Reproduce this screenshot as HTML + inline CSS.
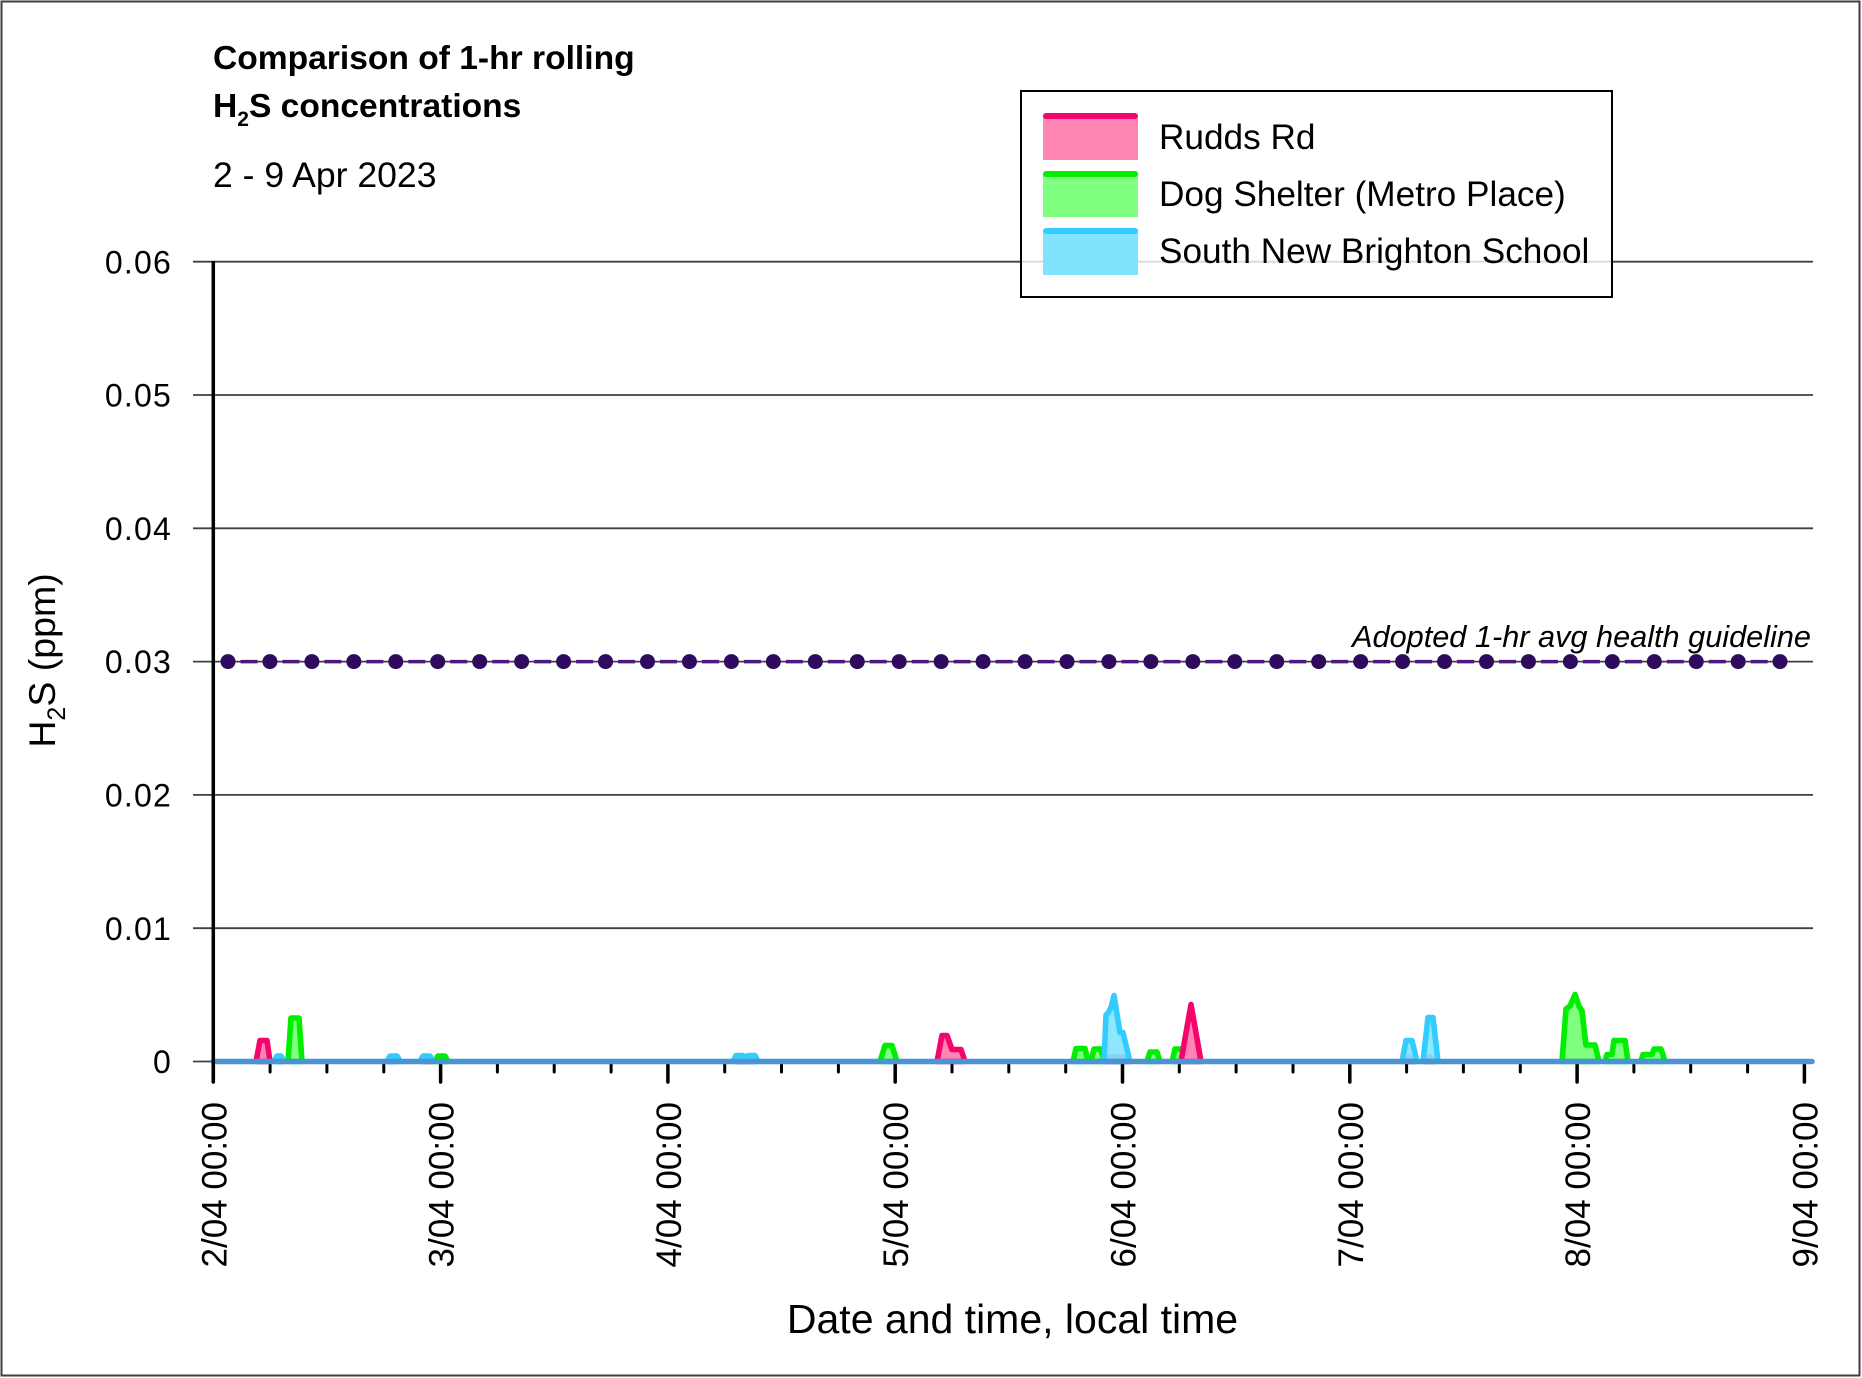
<!DOCTYPE html>
<html><head><meta charset="utf-8"><style>
html,body{margin:0;padding:0;background:#fff;}
svg{display:block;}
text{font-family:"Liberation Sans",sans-serif;fill:#000;}
</style></head><body>
<svg width="1862" height="1378" viewBox="0 0 1862 1378" xmlns="http://www.w3.org/2000/svg">
<rect x="0" y="0" width="1862" height="1378" fill="#fff"/>
<rect x="1.5" y="1.5" width="1858" height="1374" fill="none" stroke="#3f3f3f" stroke-width="2"/>

<!-- titles -->
<text x="213" y="69" font-size="33.6" font-weight="bold">Comparison of 1-hr rolling</text>
<text x="213" y="117" font-size="33.6" font-weight="bold">H<tspan dy="9" font-size="21">2</tspan><tspan dy="-9">S concentrations</tspan></text>
<text x="213" y="187" font-size="35.6">2 - 9 Apr 2023</text>

<!-- gridlines -->
<g stroke="#404040" stroke-width="1.8">
<line x1="193" y1="261.7" x2="1813" y2="261.7"/>
<line x1="193" y1="395" x2="1813" y2="395"/>
<line x1="193" y1="528.3" x2="1813" y2="528.3"/>
<line x1="193" y1="661.6" x2="1813" y2="661.6"/>
<line x1="193" y1="794.9" x2="1813" y2="794.9"/>
<line x1="193" y1="928.2" x2="1813" y2="928.2"/>
<line x1="193" y1="1061.5" x2="213" y2="1061.5"/>
</g>

<!-- y tick labels -->
<g font-size="32" text-anchor="end" letter-spacing="1.2">
<text x="172" y="273.3">0.06</text>
<text x="172" y="406.6">0.05</text>
<text x="172" y="539.9">0.04</text>
<text x="172" y="673.2">0.03</text>
<text x="172" y="806.5">0.02</text>
<text x="172" y="939.8">0.01</text>
<text x="172" y="1073.1">0</text>
</g>

<!-- y axis title -->
<text transform="translate(55,660.5) rotate(-90)" font-size="37.5" text-anchor="middle">H<tspan dy="10" font-size="25">2</tspan><tspan dy="-10">S (ppm)</tspan></text>

<!-- guideline -->
<line x1="240.5" y1="661.6" x2="1780" y2="661.6" stroke="#4a1a80" stroke-width="3.5" stroke-dasharray="17 24.95"/>
<g fill="#2e0b5e">
<circle cx="228" cy="661.6" r="7.5"/><circle cx="269.95" cy="661.6" r="7.5"/><circle cx="311.9" cy="661.6" r="7.5"/><circle cx="353.85" cy="661.6" r="7.5"/><circle cx="395.8" cy="661.6" r="7.5"/><circle cx="437.75" cy="661.6" r="7.5"/><circle cx="479.7" cy="661.6" r="7.5"/><circle cx="521.65" cy="661.6" r="7.5"/><circle cx="563.6" cy="661.6" r="7.5"/><circle cx="605.55" cy="661.6" r="7.5"/><circle cx="647.5" cy="661.6" r="7.5"/><circle cx="689.45" cy="661.6" r="7.5"/><circle cx="731.4" cy="661.6" r="7.5"/><circle cx="773.35" cy="661.6" r="7.5"/><circle cx="815.3" cy="661.6" r="7.5"/><circle cx="857.25" cy="661.6" r="7.5"/><circle cx="899.2" cy="661.6" r="7.5"/><circle cx="941.15" cy="661.6" r="7.5"/><circle cx="983.1" cy="661.6" r="7.5"/><circle cx="1025.05" cy="661.6" r="7.5"/><circle cx="1067" cy="661.6" r="7.5"/><circle cx="1108.95" cy="661.6" r="7.5"/><circle cx="1150.9" cy="661.6" r="7.5"/><circle cx="1192.85" cy="661.6" r="7.5"/><circle cx="1234.8" cy="661.6" r="7.5"/><circle cx="1276.75" cy="661.6" r="7.5"/><circle cx="1318.7" cy="661.6" r="7.5"/><circle cx="1360.65" cy="661.6" r="7.5"/><circle cx="1402.6" cy="661.6" r="7.5"/><circle cx="1444.55" cy="661.6" r="7.5"/><circle cx="1486.5" cy="661.6" r="7.5"/><circle cx="1528.45" cy="661.6" r="7.5"/><circle cx="1570.4" cy="661.6" r="7.5"/><circle cx="1612.35" cy="661.6" r="7.5"/><circle cx="1654.3" cy="661.6" r="7.5"/><circle cx="1696.25" cy="661.6" r="7.5"/><circle cx="1738.2" cy="661.6" r="7.5"/><circle cx="1780" cy="661.6" r="7.5"/>
</g>
<text x="1811" y="647" font-size="30.7" font-style="italic" text-anchor="end">Adopted 1-hr avg health guideline</text>

<!-- Rudds Rd -->
<g fill="#ff85b5" stroke="#f5056b" stroke-width="5.6" stroke-linejoin="round" stroke-linecap="round">
<polygon points="256,1061.5 260,1040.5 267,1040.5 270,1061.5"/>
<polygon points="276,1061.5 279,1057 282,1061.5"/>
<polygon points="389,1061.5 392,1057 395,1061.5"/>
<polygon points="424,1061.5 427,1057 430,1061.5"/>
<polygon points="737,1061.5 740,1057 743,1061.5"/>
<polygon points="748,1061.5 751,1057 754,1061.5"/>
<polygon points="937,1061.5 942,1035.5 947,1035.5 952,1049.5 961,1049.5 965,1061.5"/>
<polygon points="1106,1061.5 1110,1057 1126,1057 1130,1061.5"/>
<polygon points="1405,1061.5 1409,1057 1413,1061.5"/>
<polygon points="1426,1061.5 1430,1057 1434,1061.5"/>
</g>

<!-- Dog Shelter -->
<g fill="#80ff80" stroke="#00ee00" stroke-width="5.6" stroke-linejoin="round" stroke-linecap="round">
<polygon points="288,1061.5 291,1018 299,1018 302,1061.5"/>
<polygon points="435,1061.5 438,1056 445,1056 448,1061.5"/>
<polygon points="880,1061.5 885,1045.5 892,1045.5 897,1061.5"/>
<polygon points="1073,1061.5 1076,1048.5 1085,1048.5 1088,1061.5"/>
<polygon points="1091,1061.5 1094,1049 1101,1049 1104,1061.5"/>
<polygon points="1147,1061.5 1150,1052 1157,1052 1160,1061.5"/>
<polygon points="1172,1061.5 1175,1049 1182,1049 1185,1061.5"/>
<polygon points="1562,1061.5 1566,1009 1570,1006 1575,994.5 1579,1006 1582,1011 1586,1045 1595,1045 1599,1061.5"/>
<polygon points="1605,1061.5 1607,1054.5 1612,1054.5 1614,1040.5 1625,1040.5 1628,1061.5"/>
<polygon points="1641,1061.5 1643,1054.5 1652,1054.5 1654,1049 1661,1049 1665,1061.5"/>
</g>
<!-- Rudds peak on top of green -->
<g fill="#ff85b5" stroke="#f5056b" stroke-width="5.6" stroke-linejoin="round" stroke-linecap="round">
<polygon points="1181,1061.5 1191,1004.5 1201,1061.5"/>
</g>

<!-- South New Brighton School -->
<g fill="#80e4ff" fill-opacity="0.9" stroke="#33ccff" stroke-width="5.6" stroke-linejoin="round" stroke-linecap="round">
<polygon points="274,1061.5 277,1056 281,1056 284,1061.5"/>
<polygon points="387,1061.5 390,1056 397,1056 400,1061.5"/>
<polygon points="420,1061.5 423,1056 430,1056 433,1061.5"/>
<polygon points="733,1061.5 736,1055.5 743,1055.5 745.5,1058 748,1055.5 755,1055.5 758,1061.5"/>
<polygon points="1104,1061.5 1106,1015 1108,1013 1111,1007.5 1114,995.5 1117,1014 1120,1032.5 1123,1032.5 1126,1045 1130,1061.5"/>
<polygon points="1402,1061.5 1406,1040.5 1412,1040.5 1417,1061.5"/>
<polygon points="1423,1061.5 1428,1017.5 1433,1017.5 1438,1061.5"/>
</g>

<!-- x ticks -->
<g stroke="#000" stroke-width="3.5" stroke-linecap="round">
<line x1="213.3" y1="1062" x2="213.3" y2="1082"/>
<line x1="440.6" y1="1062" x2="440.6" y2="1082"/>
<line x1="667.9" y1="1062" x2="667.9" y2="1082"/>
<line x1="895.2" y1="1062" x2="895.2" y2="1082"/>
<line x1="1122.5" y1="1062" x2="1122.5" y2="1082"/>
<line x1="1349.8" y1="1062" x2="1349.8" y2="1082"/>
<line x1="1577.1" y1="1062" x2="1577.1" y2="1082"/>
<line x1="1804.4" y1="1062" x2="1804.4" y2="1082"/>
</g>
<g stroke="#000" stroke-width="3" stroke-linecap="round">
<line x1="270.1" y1="1063" x2="270.1" y2="1072"/><line x1="326.9" y1="1063" x2="326.9" y2="1072"/><line x1="383.8" y1="1063" x2="383.8" y2="1072"/>
<line x1="497.4" y1="1063" x2="497.4" y2="1072"/><line x1="554.2" y1="1063" x2="554.2" y2="1072"/><line x1="611.1" y1="1063" x2="611.1" y2="1072"/>
<line x1="724.7" y1="1063" x2="724.7" y2="1072"/><line x1="781.5" y1="1063" x2="781.5" y2="1072"/><line x1="838.4" y1="1063" x2="838.4" y2="1072"/>
<line x1="952" y1="1063" x2="952" y2="1072"/><line x1="1008.8" y1="1063" x2="1008.8" y2="1072"/><line x1="1065.7" y1="1063" x2="1065.7" y2="1072"/>
<line x1="1179.3" y1="1063" x2="1179.3" y2="1072"/><line x1="1236.1" y1="1063" x2="1236.1" y2="1072"/><line x1="1293" y1="1063" x2="1293" y2="1072"/>
<line x1="1406.6" y1="1063" x2="1406.6" y2="1072"/><line x1="1463.4" y1="1063" x2="1463.4" y2="1072"/><line x1="1520.3" y1="1063" x2="1520.3" y2="1072"/>
<line x1="1633.9" y1="1063" x2="1633.9" y2="1072"/><line x1="1690.7" y1="1063" x2="1690.7" y2="1072"/><line x1="1747.6" y1="1063" x2="1747.6" y2="1072"/>
</g>

<!-- zero line -->
<line x1="213" y1="1061.5" x2="1812" y2="1061.5" stroke="#4a94d3" stroke-width="5.5" stroke-linecap="round"/>

<!-- y axis -->
<line x1="213.3" y1="261" x2="213.3" y2="1082" stroke="#000" stroke-width="3.5"/>

<!-- x labels -->
<g font-size="35" text-anchor="end">
<text transform="translate(226.3,1102) rotate(-90)">2/04 00:00</text>
<text transform="translate(453.6,1102) rotate(-90)">3/04 00:00</text>
<text transform="translate(680.9,1102) rotate(-90)">4/04 00:00</text>
<text transform="translate(908.2,1102) rotate(-90)">5/04 00:00</text>
<text transform="translate(1135.5,1102) rotate(-90)">6/04 00:00</text>
<text transform="translate(1362.8,1102) rotate(-90)">7/04 00:00</text>
<text transform="translate(1590.1,1102) rotate(-90)">8/04 00:00</text>
<text transform="translate(1817.4,1102) rotate(-90)">9/04 00:00</text>
</g>

<text x="1012.5" y="1333" font-size="41" text-anchor="middle">Date and time, local time</text>

<!-- legend -->
<rect x="1021" y="91" width="591" height="206" fill="#fff" fill-opacity="0.8" stroke="#000" stroke-width="2"/>
<rect x="1043" y="116" width="95" height="44" fill="#ff85b5"/>
<line x1="1046" y1="116" x2="1135" y2="116" stroke="#f5056b" stroke-width="6" stroke-linecap="round"/>
<rect x="1043" y="174" width="95" height="43" fill="#80ff80"/>
<line x1="1046" y1="174" x2="1135" y2="174" stroke="#00ee00" stroke-width="6" stroke-linecap="round"/>
<rect x="1043" y="231" width="95" height="44" fill="#80e4ff"/>
<line x1="1046" y1="231" x2="1135" y2="231" stroke="#33ccff" stroke-width="6" stroke-linecap="round"/>
<g font-size="35.2">
<text x="1159" y="149">Rudds Rd</text>
<text x="1159" y="206">Dog Shelter (Metro Place)</text>
<text x="1159" y="263">South New Brighton School</text>
</g>
</svg>
</body></html>
